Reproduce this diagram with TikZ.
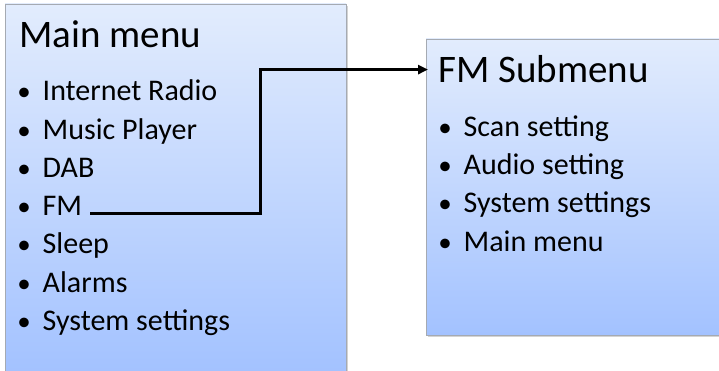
\documentclass[tikz,border=0pt]{standalone}
\usepackage{fontspec}
\setmainfont{Carlito}
\usetikzlibrary{arrows.meta,positioning,shadows,calc}
\definecolor{menutop}{RGB}{226,236,253}
\definecolor{menubot}{RGB}{163,194,255}
\definecolor{menuedge}{RGB}{165,170,178}
\newcommand{\menudot}{\makebox[37pt][c]{\fontsize{27}{30}\selectfont•}}

\begin{document}
\begin{tikzpicture}[x=1pt, y=-1pt,
  arr/.style={-{Triangle[length=10pt,width=9pt]}, line width=3pt},
  panel/.style={rectangle, draw=menuedge, line width=0.8pt, top color=menutop, bottom color=menubot,
                drop shadow={shadow xshift=2pt, shadow yshift=-2pt, opacity=0.35}},
  heading/.style={anchor=base west, font=\fontsize{39}{44}\selectfont, inner xsep=10pt},
  entry/.style={anchor=base west, font=\fontsize{30}{34}\selectfont, inner xsep=8pt},
]
\useasboundingbox (0,0) rectangle (719,371);

% Boxes
\draw[panel] (5,4) rectangle (346,372);
\draw[panel] (426,39) rectangle (724,335);

% Main menu
\node[heading, inner xsep=0pt] (maintitle) at (19,48) {Main menu};
\foreach \txt [count=\i] in {Internet Radio, Music Player, DAB, FM, Sleep, Alarms, System settings}
  \node[entry] (main\i) at (-2.5, {101+38.2*(\i-1)}) {\menudot\txt};

% FM submenu
\node[heading] (subtitle) at (428,83) {FM Submenu};
\foreach \txt [count=\i] in {Scan setting, Audio setting, System settings, Main menu}
  \node[entry] (sub\i) at (418.5, {137+38*(\i-1)}) {\menudot\txt};

% Link FM -> submenu
\coordinate (bend) at (260,71);
\draw[arr] (main4.mid east) -| (bend) |- (subtitle.west);
\end{tikzpicture}
\end{document}
